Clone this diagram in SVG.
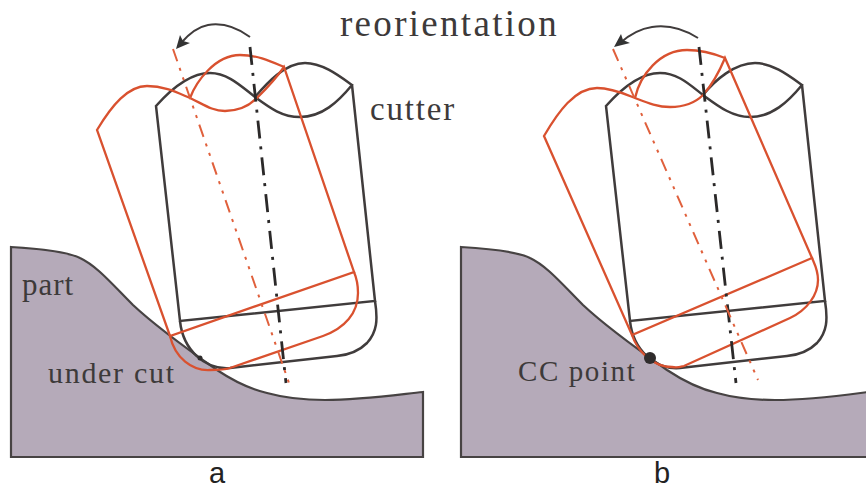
<svg xmlns="http://www.w3.org/2000/svg" width="866" height="490" viewBox="0 0 866 490">
<style>
.part{fill:#b5aab9;stroke:#474343;stroke-width:2.200}
.k{fill:none;stroke:#403c3c;stroke-width:2.500;stroke-linejoin:miter}
.r{fill:none;stroke:#d9512f;stroke-width:2.300}
.ka{fill:none;stroke:#2b2929;stroke-width:2.800;stroke-dasharray:18 8 3 8}
.ra{fill:none;stroke:#e0603c;stroke-width:2;stroke-dasharray:13 7 3 7 3 7}
.arc{fill:none;stroke:#403c3c;stroke-width:2}
.t{font-family:"Liberation Serif",serif;fill:#3d3a3a}
.s{font-family:"Liberation Sans",Arial,sans-serif;fill:#222;font-size:29px}
</style>
<rect width="866" height="490" fill="#fff"/>
<g id="part-a">
<path class="part" d="M11 247C45 249 68 252 80 258C97 266 112 284 133 305C150 321 190 351 217 370C235 382 250 389 267 393C285 398 300 400 325 400C360 400 395 395 423 392L423 457L11 457Z"/>
<text class="t" x="22" y="295" font-size="31" letter-spacing="1">part</text>
<text class="t" x="48" y="383" font-size="30" letter-spacing="1.700">under cut</text>
</g>
<g id="part-b">
<path class="part" d="M461 247C495 249 518 252 530 258C547 266 562 284 583 305C600 321 640 351 667 370C685 382 700 389 717 393C735 398 750 400 775 400C810 400 845 395 868 392L868 457L461 457Z"/>
<text class="t" x="518" y="381" font-size="29" letter-spacing="1.600">CC point</text>
</g>
<g id="cutter-a">
<path class="k" d="M352 85L375 301L180 321L156 106C172 88 190 73 210 73C228 73 242 87 255 97C270 108 282 117 300 117C322 117 338 102 352 85C338 75 322 63 305 63C285 63 267 83 255 97"/>
<path class="k" d="M180 321C183 350 205 370 230 368L337 356C348 355 358 352 367 343C377 332 378 320 375 301"/>
</g>
<g id="cutter-a-reoriented">
<path class="r" d="M97 130C112 105 128 86 147 86C165 86 178 93 190 98C203 104 212 111 225 111C240 111 250 105 257 98C268 87 277 77 284 67L354 272L170 336Z"/>
<path class="r" d="M190 98C196 82 215 55 240 55C257 55 270 61 284 67"/>
<path class="r" d="M170 336C175 358 192 371 210 370C218 370 224 370 230 368L323 336C345 328 358 313 358 293C358 285 357 279 354 272"/>
</g>
<g id="cutter-b">
<path class="k" d="M802 85L825 301L630 321L606 106C622 88 640 73 660 73C678 73 690 85 703 95C718 106 732 117 750 117C772 117 788 102 802 85C788 75 772 63 755 63C735 63 715 80 703 95"/>
<path class="k" d="M630 321C633 350 655 370 680 368L787 356C798 355 808 352 817 343C827 332 828 320 825 301"/>
</g>
<g id="cutter-b-reoriented">
<path class="r" d="M544 136C558 112 575 88 597 88C612 88 625 94 635 98C648 103 658 107 670 107C685 107 696 102 703 95C712 85 720 70 725 58L812 258L632 335Z"/>
<path class="r" d="M635 98C640 75 660 50 687 50C702 50 715 54 725 58"/>
<path class="r" d="M632 335C637 350 652 367 672 367C678 368 680 367 684 366L790 318C807 310 818 295 818 280C818 270 815 265 812 258"/>
</g>
<g id="connectors">
<path class="ka" d="M250 47L286 383"/>
<path class="ra" d="M173 49L289 383"/>
<path class="ka" d="M699 47L736 383"/>
<path class="ra" d="M613 49L758 380"/>
<path class="arc" d="M250 37C235 26 220 23 208 25C197 27 188 35 181 43"/>
<path d="M176 49L180 35L183 41L190 43Z" fill="#333"/>
<path class="arc" d="M698 38C682 28 665 25 652 27C638 29 628 36 620 43"/>
<path d="M614 47L621 34L623 40L630 43Z" fill="#333"/>
</g>
<g id="cc-point"><circle cx="650" cy="358" r="6" fill="#2f2c2c"/></g>
<g id="undercut-point"><circle cx="200" cy="358" r="2.500" fill="#2f2c2c"/></g>
<g id="labels">
<text class="t" x="340" y="36" font-size="37" letter-spacing="2.300">reorientation</text>
<text class="t" x="370" y="120" font-size="33" letter-spacing="1.800">cutter</text>
<text class="s" x="209" y="483">a</text>
<text class="s" x="654" y="483">b</text>
</g>
</svg>
